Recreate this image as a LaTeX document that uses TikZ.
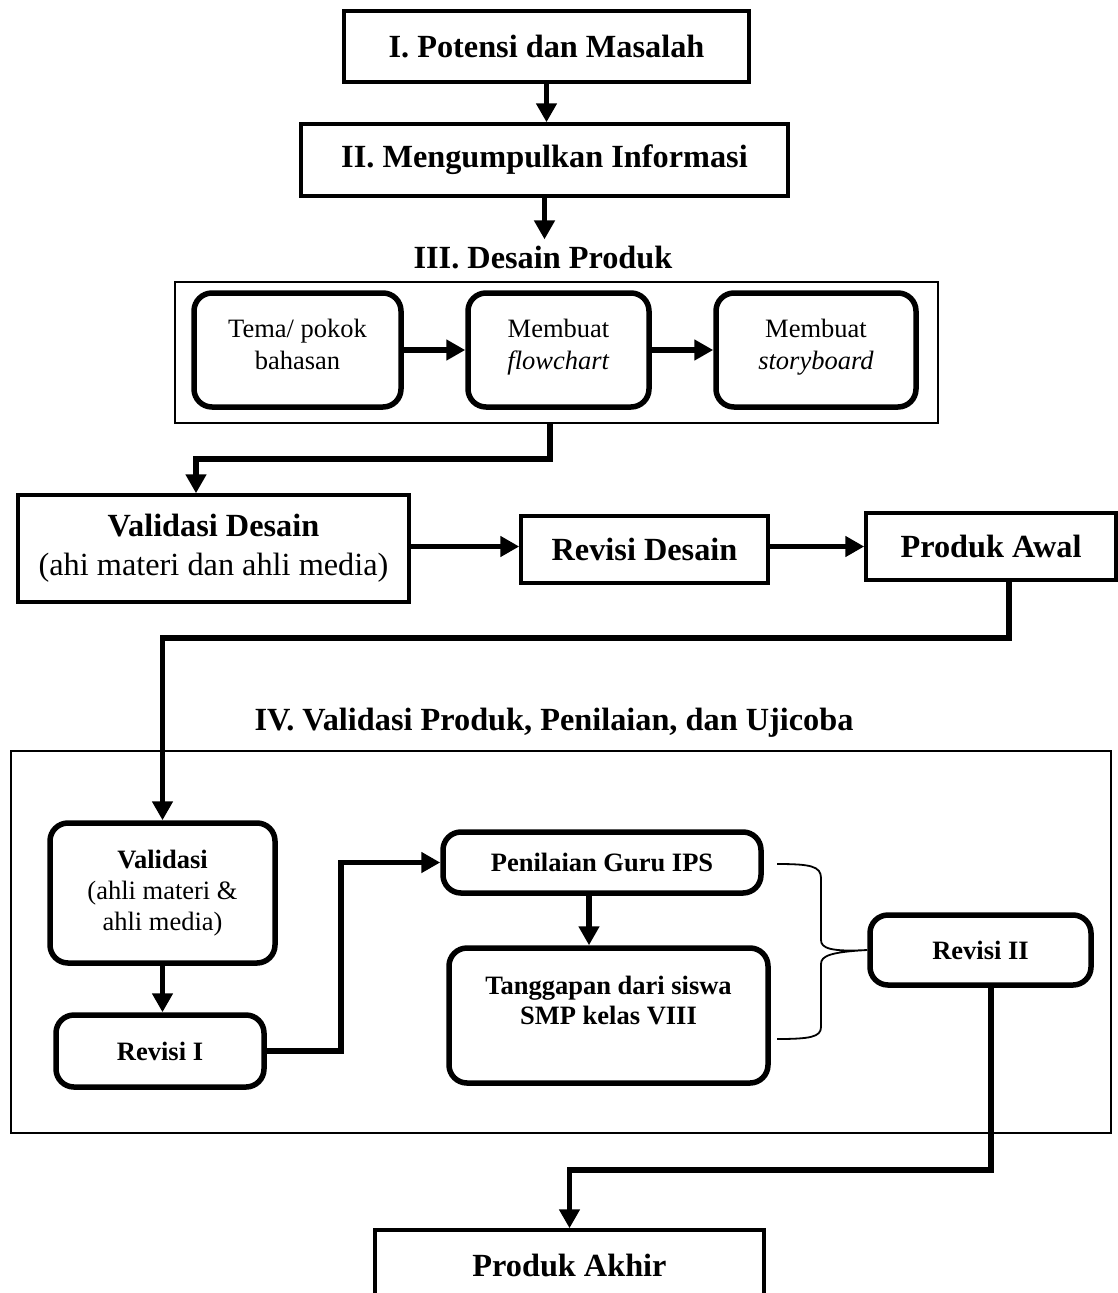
\documentclass[tikz,border=0pt]{standalone}
\usepackage{fontspec}
\setmainfont{Liberation Serif}
\usetikzlibrary{arrows.meta,calc}
\begin{document}
\begin{tikzpicture}[x=1pt,y=-1pt,
  rectb/.style={draw, line width=3.5pt, inner sep=0pt, align=center, font=\fontsize{32.3}{39}\selectfont},
  rnd/.style={draw, line width=5.5pt, rounded corners=18pt, inner sep=0pt, align=center, font=\fontsize{26.5}{31}\selectfont},
  frm/.style={draw, line width=1.8pt, inner sep=0pt},
  ttl/.style={font=\fontsize{32.3}{36}\selectfont\bfseries, inner sep=0pt},
  conn/.style={line width=5.5pt, -{Triangle[width=20pt,length=19pt]}},
  wire/.style={line width=5.5pt},
  brc/.style={line width=1.8pt}]
\useasboundingbox (0,0) rectangle (1118,1293);

% top boxes
\node[rectb, minimum width=405, minimum height=71] (n1) at (546.5,46.5) {\bfseries I. Potensi dan Masalah};
\node[rectb, minimum width=487, minimum height=72] (n2) at (544.5,160) {\bfseries II. Mengumpulkan Informasi};
\node[ttl] (t3) at (543,258) {III. Desain Produk};

% design frame
\node[frm, minimum width=763, minimum height=141] (box3) at (556.5,352.5) {};
\node[rnd, minimum width=207, minimum height=114, font=\fontsize{26.5}{32}\selectfont] (tema) at (297.5,350) {Tema/ pokok\\bahasan\\[-21pt]~};
\node[rnd, minimum width=181, minimum height=114, font=\fontsize{26.5}{32}\selectfont] (flow) at (558.5,350) {Membuat\\\textit{flowchart}\\[-21pt]~};
\node[rnd, minimum width=200, minimum height=114, font=\fontsize{26.5}{32}\selectfont] (story) at (816,350) {Membuat\\\textit{storyboard}\\[-21pt]~};

% validation row
\node[rectb, minimum width=391, minimum height=107] (vd) at (213.5,548.5) {\bfseries Validasi Desain\\(ahi materi dan ahli media)};
\node[rectb, minimum width=247, minimum height=67] (rd) at (644.5,549.5) {\bfseries Revisi Desain};
\node[rectb, minimum width=250, minimum height=67] (pa) at (991,546.5) {\bfseries Produk Awal};

% section IV
\node[ttl] (t4) at (554,723) {IV. Validasi Produk, Penilaian, dan Ujicoba};
\node[frm, minimum width=1100, minimum height=382] (box4) at (561,942) {};
\node[rnd, minimum width=225, minimum height=140] (val) at (162.5,893) {\textbf{Validasi}\\(ahli materi \&\\ahli media)};
\node[rnd, minimum width=208, minimum height=72] (r1) at (160,1051) {\textbf{Revisi I}};
\node[rnd, minimum width=318, minimum height=61] (pen) at (602,862.5) {\textbf{Penilaian Guru IPS}};
\node[rnd, minimum width=319, minimum height=135, font=\fontsize{26.5}{30}\selectfont\bfseries] (tang) at (608.5,1015.5) {Tanggapan dari siswa\\SMP kelas VIII\\~};
\node[rnd, minimum width=221, minimum height=70] (rev2) at (980.5,950) {\textbf{Revisi II}};
\node[rectb, minimum width=389, minimum height=70] (pakhir) at (569.5,1265) {\bfseries Produk Akhir};

% connectors
\draw[conn] (n1.south) -- (n1.south |- n2.north);
\draw[conn, shorten >=7pt] (n2.south) -- (n2.south |- t3.north);
\draw[conn] (tema.east) -- (flow.west);
\draw[conn] (flow.east) -- (story.west);
\draw[conn] ([xshift=-6.5pt]box3.south) -- ++(0,35) -| ([xshift=-17.5pt]vd.north);
\draw[conn] (vd.east |- pa.west) -- (rd.west |- pa.west);
\draw[conn] (rd.east |- pa.west) -- (pa.west);
\draw[conn] ([xshift=18pt]pa.south) -- ++(0,56) -| (val.north);
\draw[conn] (val.south) -- (val.south |- r1.north);
\draw[conn] (r1.east) -- ++(74,0) |- (pen.west);
\draw[conn] ([xshift=-13pt]pen.south) -- ([xshift=-13pt]pen.south |- tang.north);
\draw[conn] ([xshift=10.5pt]rev2.south) -- ++(0,182) -| (pakhir.north);

% brace
\coordinate (bt) at (777,864);
\coordinate (bb) at (777,1039);
\draw[brc] (bt) .. controls (810,864) and (821,866) .. (821,878) -- (821,940)
  .. controls (821,948) and (830,952) .. (rev2.west)
  .. controls (830,952) and (821,956) .. (821,964) -- (821,1027)
  .. controls (821,1037) and (810,1039) .. (bb);
\end{tikzpicture}
\end{document}
